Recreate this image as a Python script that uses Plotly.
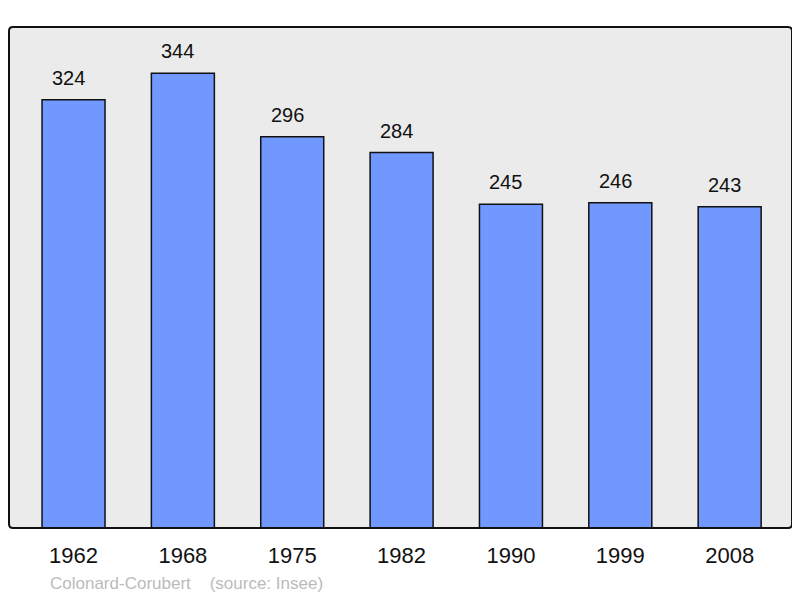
import plotly.graph_objects as go

years = ["1962", "1968", "1975", "1982", "1990", "1999", "2008"]
population = [324, 344, 296, 284, 245, 246, 243]

W, H = 792, 590
L, T, PW, PH = 1, 19, 783, 501
R, B = W - L - PW, H - T - PH

fig = go.Figure()
fig.add_trace(go.Bar(
    x=list(range(len(years))), y=population,
    width=0.576,
    marker=dict(color="#7098ff", line=dict(color="#111111", width=1.5)),
    hoverinfo="skip",
))

rx, ry = 4 / PW, 4 / PH
frame = (f"M {rx},0 L {1-rx},0 Q 1,0 1,{ry} L 1,{1-ry} Q 1,1 {1-rx},1 "
         f"L {rx},1 Q 0,1 0,{1-ry} L 0,{ry} Q 0,0 {rx},0 Z")

annotations = [dict(x=i, y=v, xref="x", yref="y", text=str(v), showarrow=False,
                    yanchor="bottom", yshift=9, xshift=-5,
                    font=dict(size=20, color="#111111", family="Liberation Sans"))
               for i, v in enumerate(population)]
annotations.append(dict(text="Colonard-Corubert&nbsp;&nbsp;&nbsp;&nbsp;(source: Insee)",
                        xref="paper", yref="paper", x=(40 - L) / PW, y=0,
                        yshift=-55, xanchor="left", yanchor="middle", showarrow=False,
                        font=dict(size=17, color="#bbbbbb", family="Liberation Sans")))

fig.update_layout(
    width=W, height=H,
    margin=dict(l=L, r=R, t=T, b=B, pad=0),
    paper_bgcolor="white", plot_bgcolor="white",
    showlegend=False,
    xaxis=dict(range=[-0.59, 6.57], tickmode="array",
               tickvals=list(range(len(years))), ticktext=years,
               tickfont=dict(size=22, color="#111111", family="Liberation Sans"),
               showgrid=False, zeroline=False, ticks="", ticklabelstandoff=12,
               showline=False, automargin=False),
    yaxis=dict(range=[0, 379], showticklabels=False, showgrid=False,
               zeroline=False, ticks="", showline=False, automargin=False),
    shapes=[dict(type="path", xref="paper", yref="paper", path=frame,
                 fillcolor="#ebebeb", line=dict(width=0), layer="below"),
            dict(type="path", xref="paper", yref="paper", path=frame,
                 line=dict(color="#111111", width=2), layer="above")],
    annotations=annotations,
)
fig.write_html("out.html")
